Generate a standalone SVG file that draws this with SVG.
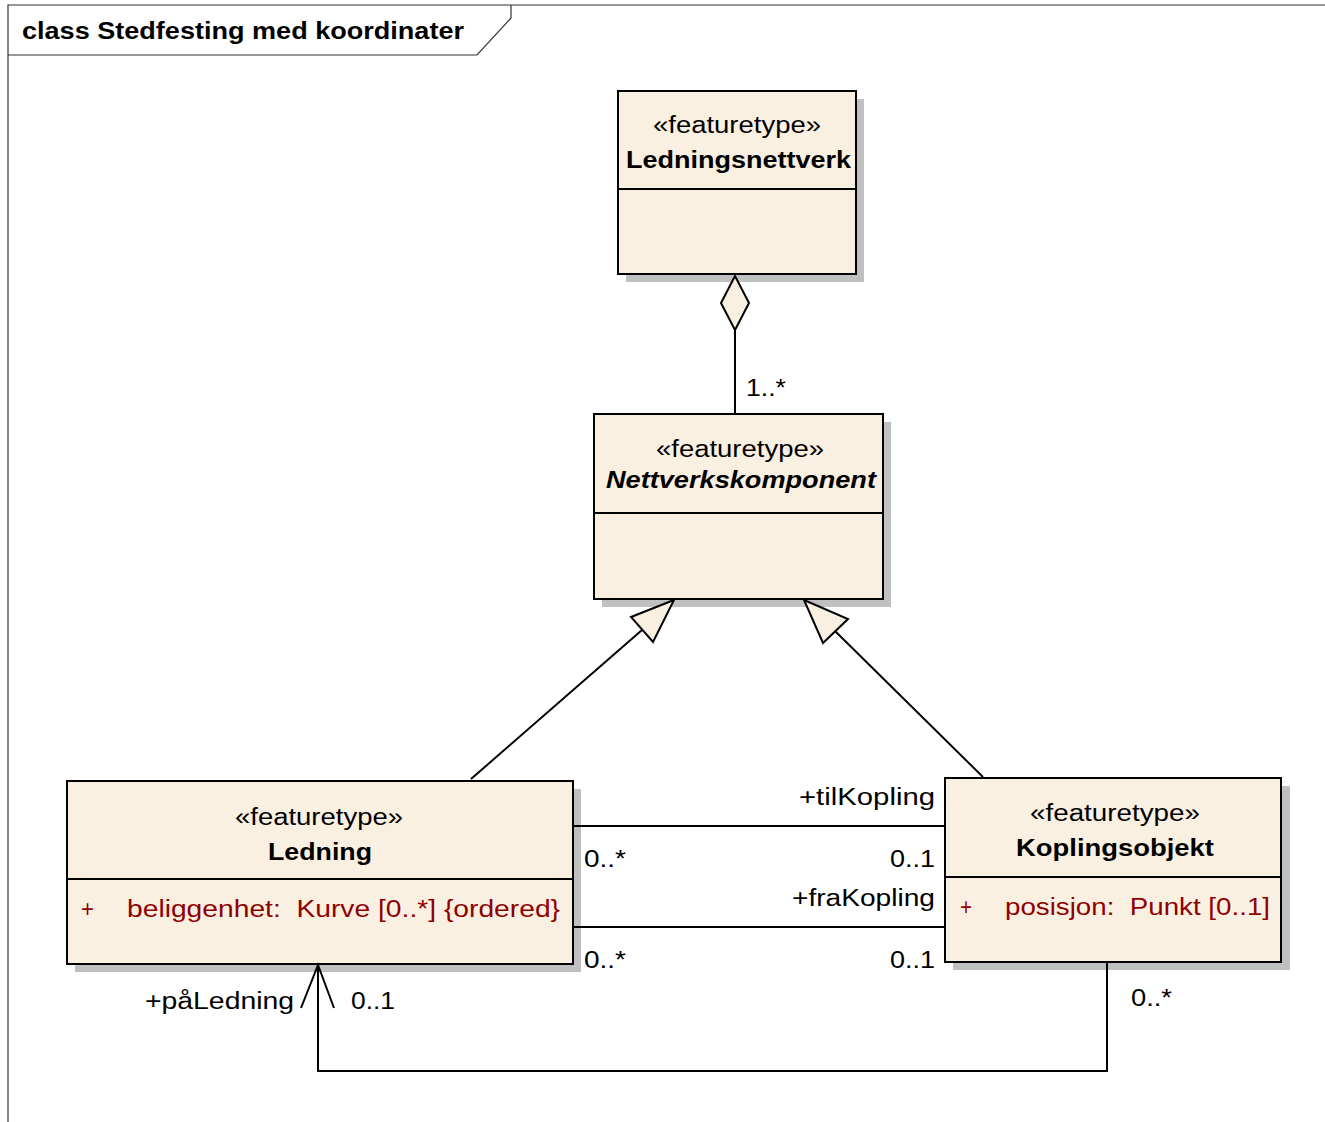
<svg xmlns="http://www.w3.org/2000/svg" width="1325" height="1122" viewBox="0 0 1325 1122">
<style>
.frame{fill:none;stroke:#333;stroke-width:1.2}
.shadow{fill:#c0c0c0;stroke:none}
.box{fill:#faf0e2;stroke:#000;stroke-width:2}
.sep{stroke:#000;stroke-width:2}
.t{font-family:"Liberation Sans",Arial,sans-serif;font-size:23px;fill:#000}
.b{font-weight:bold}
.i{font-style:italic}
.attr{fill:#8f0000}
.title{font-family:"Liberation Sans",Arial,sans-serif;font-size:23px;font-weight:bold;fill:#000}
.line{fill:none;stroke:#000;stroke-width:2}
.head{fill:#faf0e2;stroke:#000;stroke-width:2;stroke-linejoin:miter}
</style>
<rect x="0" y="0" width="1325" height="1122" fill="#fff"/>
<g id="frame">
<path class="frame" d="M8,1122 V5 H1325"/>
<path class="frame" d="M8,55 H477 L511,18 V5"/>
<text class="title" x="22" y="39" textLength="442" lengthAdjust="spacingAndGlyphs">class Stedfesting med koordinater</text>
</g>
<g id="Ledningsnettverk">
<rect class="shadow" x="626" y="99" width="238" height="183"/>
<rect class="box" x="618" y="91" width="238" height="183"/>
<line class="sep" x1="618" y1="189" x2="856" y2="189"/>
<text class="t" x="653" y="133" textLength="168" lengthAdjust="spacingAndGlyphs">«featuretype»</text>
<text class="t b" x="626" y="168" textLength="225" lengthAdjust="spacingAndGlyphs">Ledningsnettverk</text>
</g>
<g id="Nettverkskomponent">
<rect class="shadow" x="602" y="422" width="289" height="185"/>
<rect class="box" x="594" y="414" width="289" height="185"/>
<line class="sep" x1="594" y1="513" x2="883" y2="513"/>
<text class="t" x="656" y="457" textLength="168" lengthAdjust="spacingAndGlyphs">«featuretype»</text>
<text class="t b i" x="606" y="488" textLength="270" lengthAdjust="spacingAndGlyphs">Nettverkskomponent</text>
</g>
<g id="Ledning">
<rect class="shadow" x="75" y="789" width="506" height="183"/>
<rect class="box" x="67" y="781" width="506" height="183"/>
<line class="sep" x1="67" y1="879" x2="573" y2="879"/>
<text class="t" x="235" y="825" textLength="168" lengthAdjust="spacingAndGlyphs">«featuretype»</text>
<text class="t b" x="268" y="860" textLength="104" lengthAdjust="spacingAndGlyphs">Ledning</text>
<text class="t attr" x="81" y="917" textLength="13" lengthAdjust="spacingAndGlyphs">+</text>
<text class="t attr" x="127" y="917" xml:space="preserve" textLength="433" lengthAdjust="spacingAndGlyphs">beliggenhet:  Kurve [0..*] {ordered}</text>
</g>
<g id="Koplingsobjekt">
<rect class="shadow" x="953" y="786" width="337" height="184"/>
<rect class="box" x="945" y="778" width="336" height="184"/>
<line class="sep" x1="945" y1="877" x2="1281" y2="877"/>
<text class="t" x="1030" y="821" textLength="170" lengthAdjust="spacingAndGlyphs">«featuretype»</text>
<text class="t b" x="1016" y="856" textLength="198" lengthAdjust="spacingAndGlyphs">Koplingsobjekt</text>
<text class="t attr" x="960" y="915" textLength="12" lengthAdjust="spacingAndGlyphs">+</text>
<text class="t attr" x="1005" y="915" xml:space="preserve" textLength="265" lengthAdjust="spacingAndGlyphs">posisjon:  Punkt [0..1]</text>
</g>
<g id="connectors">
<line class="line" x1="735" y1="330" x2="735" y2="414"/>
<polygon class="head" points="735,276 749,303 735,330 721,303"/>
<line class="line" x1="471" y1="779" x2="642" y2="630"/>
<polygon class="head" points="674,600 631,617 653,642"/>
<line class="line" x1="983" y1="777" x2="835" y2="631"/>
<polygon class="head" points="804,600 848,619 823,643"/>
<line class="line" x1="573" y1="826" x2="945" y2="826"/>
<line class="line" x1="573" y1="927" x2="945" y2="927"/>
<polyline class="line" points="1107,962 1107,1071 318,1071 318,965"/>
<polyline class="line" points="301,1008 318,965 334,1008"/>
<text class="t" x="746" y="396" textLength="40" lengthAdjust="spacingAndGlyphs">1..*</text>
<text class="t" x="799" y="805" textLength="136" lengthAdjust="spacingAndGlyphs">+tilKopling</text>
<text class="t" x="584" y="867" textLength="42" lengthAdjust="spacingAndGlyphs">0..*</text>
<text class="t" x="890" y="867" textLength="45" lengthAdjust="spacingAndGlyphs">0..1</text>
<text class="t" x="792" y="906" textLength="143" lengthAdjust="spacingAndGlyphs">+fraKopling</text>
<text class="t" x="584" y="968" textLength="42" lengthAdjust="spacingAndGlyphs">0..*</text>
<text class="t" x="890" y="968" textLength="45" lengthAdjust="spacingAndGlyphs">0..1</text>
<text class="t" x="145" y="1009" textLength="149" lengthAdjust="spacingAndGlyphs">+påLedning</text>
<text class="t" x="351" y="1009" textLength="44" lengthAdjust="spacingAndGlyphs">0..1</text>
<text class="t" x="1131" y="1006" textLength="41" lengthAdjust="spacingAndGlyphs">0..*</text>
</g>
</svg>
